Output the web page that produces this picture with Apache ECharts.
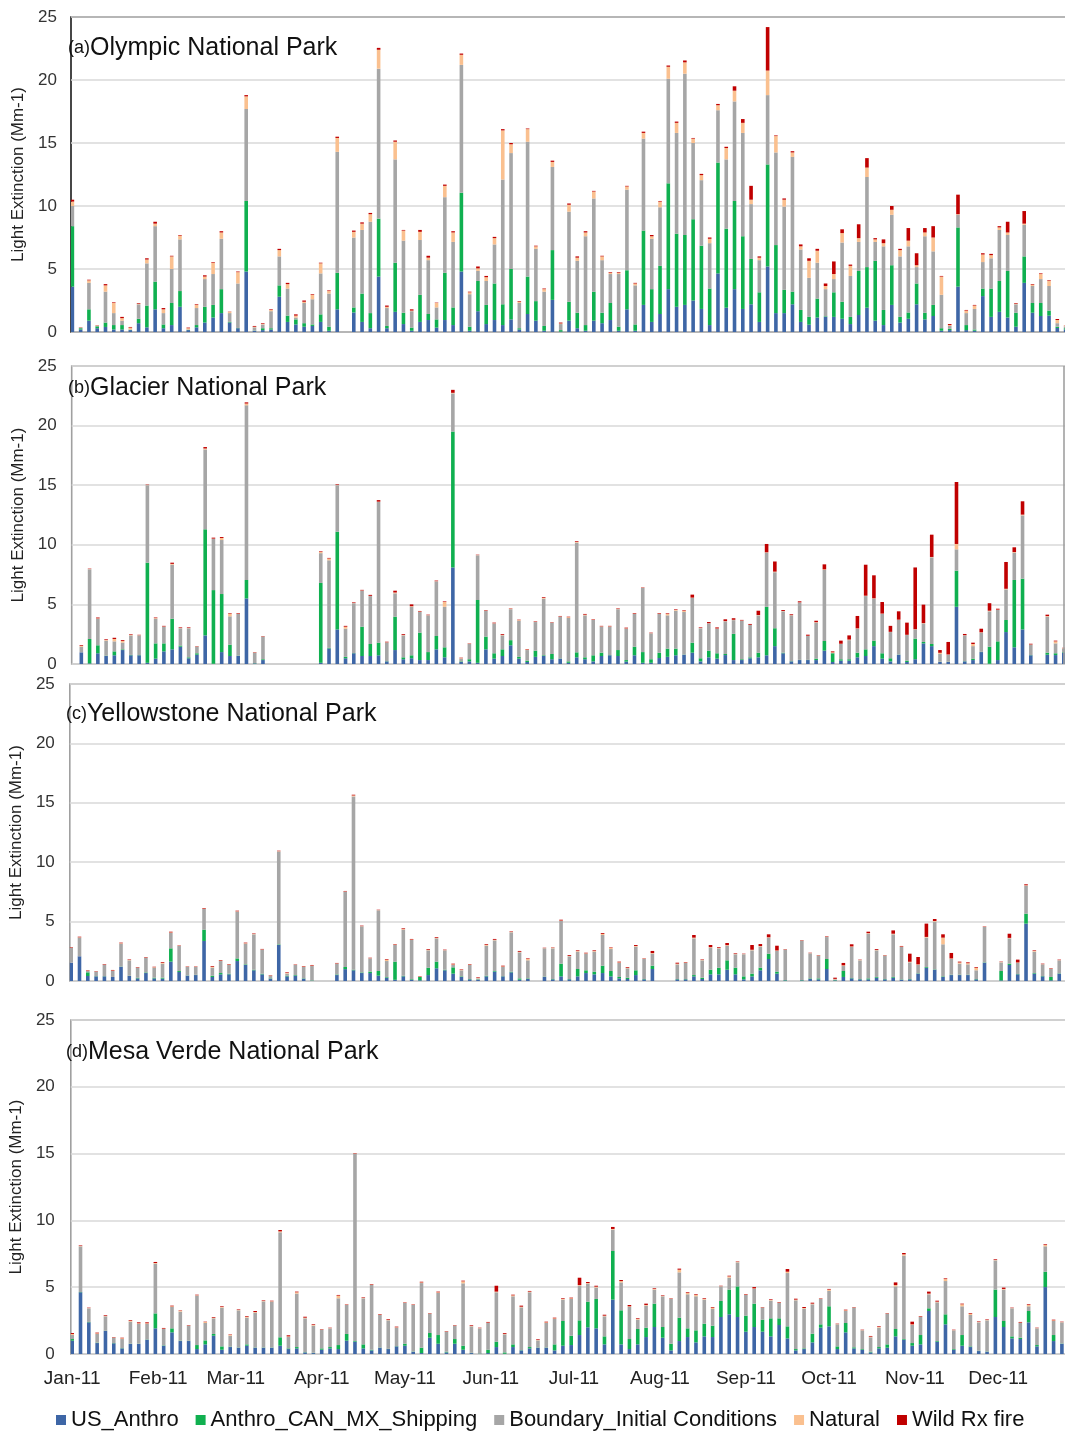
<!DOCTYPE html>
<html>
<head>
<meta charset="utf-8">
<script src="https://cdn.jsdelivr.net/npm/echarts@6/dist/echarts.min.js"></script>
<style>
  html, body { margin: 0; padding: 0; background: #fff; overflow: hidden; }
  #chart { width: 1090px; height: 1431px; }
</style>
</head>
<body>
<div id="chart"></div>
<script>
// Source-apportioned light extinction (Mm-1), one sample every third day of 2011.
// Each array holds samples k = 0..121 (day 3k of the year); null = no sample.

const seriesNames = ['US_Anthro', 'Anthro_CAN_MX_Shipping', 'Boundary_Initial Conditions', 'Natural', 'Wild Rx fire'];
const seriesColors = ['#3E66A6', '#10B050', '#A6A6A6', '#FAC08F', '#C00000'];
const monthLabels = ['Jan-11', 'Feb-11', 'Mar-11', 'Apr-11', 'May-11', 'Jun-11', 'Jul-11', 'Aug-11', 'Sep-11', 'Oct-11', 'Nov-11', 'Dec-11'];
const monthStartDays = [0, 31, 59, 90, 120, 151, 181, 212, 243, 273, 304, 334];
const yTicks = [0, 5, 10, 15, 20, 25];

// (a) Olympic National Park
const olympicUS = [3.6,0.2,0.9,0.3,0.4,0.2,0.2,0.15,0.7,0.37, 1.8,0.3,0.55,2.0,0.15,0.37,0.75,1.15,1.5,0.75, 0.3,4.8,0.1,0.15,0.2,2.8,0.8,0.6,0.42,0.48, 0.8,0.1,1.8,null,1.55,0.8,0.3,4.4,0.3,1.6, 0.63,0.1,0.8,0.95,0.35,0.95,0.55,4.8,0.1,1.65, 0.63,0.95,0.55,1.0,0.2,1.43,0.9,0.1,2.55,0.03, 0.9,0.3,0.1,0.9,0.7,0.95,0.1,1.8,0.1,2.15, 0.8,1.43,3.4,2.0,2.15,2.5,1.83,0.55,4.65,1.93, 3.4,1.83,2.2,0.8,5.2,1.5,1.5,2.2,0.8,0.58, 1.15,1.2,1.2,1.05,0.63,1.35,1.93,0.9,0.55,2.15, 0.75,1.05,2.2,1.0,1.27,0.1,0.15,3.6,0.15,0.1, 2.85,1.2,1.6,1.15,0.42,3.9,1.53,1.27,1.3,0.32, 0.2,null];
const olympicCAN = [4.8,0.1,0.9,0.15,0.35,0.35,0.35,0.02,0.35,1.73, 2.2,0.3,1.75,1.25,0.02,0.18,1.25,1.0,1.9,0.05, 0.02,5.6,0.02,0.15,0.1,0.9,0.5,0.4,0.28,0.12, 0.6,0.32,2.9,null,0.4,2.25,1.2,4.6,0.18,3.9, 0.9,0.25,2.15,0.48,0.65,3.75,1.4,6.25,0.32,2.4, 1.52,2.9,1.65,4.0,0.1,2.97,1.55,0.38,3.95,0.12, 1.5,1.23,0.45,2.3,0.83,1.35,0.32,3.1,0.5,5.9, 2.6,3.82,8.4,5.8,5.55,6.45,5.02,2.9,8.8,6.27, 7.0,5.77,3.6,2.35,8.1,5.4,1.85,1.0,0.95,0.62, 1.5,0.05,1.95,1.35,0.57,3.5,3.22,4.75,1.2,3.15, 0.45,0.5,1.65,0.53,0.88,0.2,0.1,4.7,0.4,0.1, 0.6,2.25,2.45,3.7,1.11,2.1,0.77,1.03,0.4,0.1, 0.1,null];
const olympicBnd = [1.6,0.05,2.1,0.05,2.45,0.95,0.35,0.03,1.15,3.35, 4.4,0.9,2.7,4.1,0.03,1.35,2.2,2.45,4.0,0.7, 3.53,7.3,0.25,0.3,1.35,2.3,2.15,0.15,1.6,2.0, 3.25,2.63,9.6,null,5.55,5.05,7.25,11.9,1.42,8.2, 5.72,1.3,4.35,4.27,0.95,6.0,5.2,10.15,2.58,0.8, 1.9,3.1,9.9,9.2,2.0,10.7,4.15,2.72,6.6,0.48, 7.15,4.12,7.05,7.4,4.17,2.3,4.18,6.4,3.1,7.3, 4.0,4.65,8.3,8.0,12.8,6.05,5.2,3.6,4.15,5.5, 7.9,8.2,4.35,2.55,5.5,7.35,6.6,10.7,4.8,3.1, 2.85,2.15,1.05,4.7,3.25,2.3,7.15,1.5,5.05,4.0, 4.8,5.25,1.3,6.07,4.25,2.65,0.23,1.0,0.95,1.63, 2.1,2.4,4.05,2.85,0.67,2.5,1.35,1.9,1.95,0.28, 0.15,null];
const olympicNat = [0.35,0.02,0.2,0.03,0.5,0.8,0.2,0.15,0.05,0.3, 0.2,0.3,1.0,0.3,0.1,0.25,0.2,0.9,0.5,0.1, 0.9,1.0,0.05,0.05,0.1,0.5,0.35,0.15,0.1,0.35, 0.8,0.2,1.1,null,0.45,0.5,0.6,1.5,0.1,1.4, 0.8,0.05,0.65,0.2,0.35,0.9,0.75,0.8,0.15,0.2, 0.3,0.5,3.9,0.7,0.1,1.0,0.2,0.2,0.4,0.05, 0.55,0.25,0.3,0.55,0.3,0.1,0.1,0.25,0.15,0.45, 0.2,0.45,0.95,0.8,0.9,0.35,0.4,0.35,0.4,0.9, 0.85,0.8,0.35,0.2,1.95,1.3,0.55,0.35,0.25,1.35, 0.95,0.25,0.4,0.75,0.8,0.3,0.75,0.2,0.25,0.4, 0.5,0.45,0.15,0.3,1.1,1.45,0.07,0.05,0.2,0.27, 0.6,0.25,0.2,0.2,0.05,0.1,0.1,0.4,0.4,0.25, 0.05,null];
const olympicFire = [0.15,0.02,0.05,0.02,0.1,0.05,0.1,0.05,0.05,0.1, 0.15,0.1,0.05,0.05,0.05,0.05,0.1,0.05,0.1,0.02, 0.05,0.1,0.06,0.05,0.05,0.1,0.1,0.1,0.1,0.05, 0.05,0.05,0.1,null,0.1,0.1,0.1,0.15,0.1,0.1, 0.05,0.1,0.15,0.15,0.03,0.1,0.1,0.1,0.05,0.15, 0.1,0.1,0.1,0.1,0.05,0.05,0.05,0.05,0.1,0.07, 0.1,0.1,0.1,0.05,0.05,0.05,0.05,0.05,0.05,0.1, 0.1,0.05,0.1,0.1,0.15,0.05,0.1,0.1,0.1,0.1, 0.35,0.3,1.1,0.1,3.45,0.05,0.1,0.1,0.15,0.2, 0.15,0.2,1.0,0.3,0.1,1.1,0.75,0.1,0.3,0.3, 0.1,1.0,0.95,0.35,0.9,0.05,0.08,1.55,0.05,0.05, 0.1,0.1,0.1,0.85,0.05,1.0,0.05,0.05,0.05,0.08, 0.02,null];

// (b) Glacier National Park
const glacierUS = [null,0.98,0.05,0.9,0.67,0.73,1.17,0.73,0.73,0.1, 0.45,1.06,1.23,1.45,0.48,0.78,2.4,0.02,1.0,0.67, 0.67,5.5,0.05,0.33,null,null,null,null,null,null, 0.1,1.3,2.9,0.48,0.9,0.67,0.67,0.73,0.22,1.17, 0.4,0.48,0.33,0.33,1.23,0.56,8.1,0.17,0.22,0.1, 1.23,0.45,0.67,1.57,0.45,0.17,0.6,0.67,0.4,0.45, 0.1,0.56,0.4,0.22,0.67,0.73,0.67,0.2,0.73,0.1, 0.1,0.5,0.6,0.73,0.78,0.95,0.22,0.56,0.45,0.75, 0.33,0.33,0.48,0.56,0.73,1.5,0.9,0.22,0.33,0.33, 0.33,1.12,0.17,0.28,0.28,0.56,0.67,1.5,0.45,0.22, 0.78,0.17,0.4,1.73,1.5,0.17,0.17,4.8,0.22,0.33, 1.0,0.02,0.33,2.68,1.4,2.9,0.73,null,0.78,0.75, 0.95,null];
const glacierCAN = [null,0.0,2.05,0.67,0.03,0.33,0.06,0.03,0.02,8.4, 1.28,0.67,2.57,0.1,0.08,0.12,8.9,6.18,4.87,0.95, 0.03,1.55,0.02,0.07,null,null,null,null,null,null, 6.7,0.05,8.2,0.12,0.02,2.46,1.01,1.06,0.02,2.8, 0.16,0.25,2.3,0.67,1.12,0.84,11.4,0.05,0.18,5.27, 1.07,0.45,0.56,0.43,0.15,0.11,0.52,0.06,0.44,0.02, 0.12,0.42,0.16,0.51,0.28,0.02,0.5,0.13,0.72,0.9, 0.3,0.45,0.69,0.56,0.02,0.84,0.26,0.56,0.45,0.09, 2.2,0.07,0.08,0.39,4.07,1.5,0.05,0.02,0.02,0.02, 0.12,0.81,0.73,0.12,0.12,0.39,0.56,0.46,0.45,0.26, 0.02,0.11,1.73,0.12,0.18,0.02,0.02,3.03,0.02,0.12, 0.02,1.43,1.57,1.01,5.65,4.26,0.02,null,0.17,0.15, 0.05,null];
const glacierBnd = [null,0.47,5.85,2.23,1.26,0.84,0.57,1.64,1.65,6.5, 2.07,1.4,4.53,1.45,2.44,0.55,6.7,4.3,4.53,2.38, 3.5,14.65,0.88,1.9,null,null,null,null,null,null, 2.5,7.35,3.9,2.36,4.18,3.02,4.02,11.8,1.56,1.96, 1.84,4.07,1.73,3.08,4.58,3.4,3.2,0.23,1.28,3.75, 2.17,2.5,1.17,2.6,3.03,0.89,2.4,4.75,2.63,3.5, 3.64,9.2,3.52,2.96,2.18,2.38,3.43,2.63,2.75,5.38, 2.17,3.25,2.79,3.18,3.56,3.75,2.52,2.28,2.06,2.74, 1.15,3.23,2.71,3.13,4.54,4.7,3.47,3.84,4.8,2.0, 3.02,5.96,0.02,1.28,1.6,2.01,4.47,3.52,3.3,2.2, 2.89,2.15,0.77,1.55,7.27,0.65,0.59,1.79,2.16,1.05, 1.61,2.97,2.63,2.57,2.29,5.31,0.87,null,3.02,0.83, 0.3,null];
const glacierNat = [null,0.06,0.02,0.03,0.05,0.2,0.13,0.05,0.02,0.02, 0.05,0.02,0.07,0.02,0.02,0.02,0.08,0.02,0.17,0.2, 0.03,0.15,0.02,0.02,null,null,null,null,null,null, 0.1,0.15,0.02,0.17,0.02,0.02,0.02,0.03,0.02,0.07, 0.03,0.05,0.04,0.02,0.02,0.4,0.05,0.04,0.02,0.02, 0.02,0.02,0.03,0.04,0.05,0.05,0.02,0.06,0.02,0.02, 0.07,0.06,0.06,0.02,0.03,0.03,0.03,0.03,0.03,0.02, 0.02,0.03,0.12,0.06,0.09,0.03,0.02,0.02,0.02,0.02, 0.03,0.02,0.02,0.03,0.03,0.05,0.03,0.02,0.02,0.02, 0.04,0.05,0.06,0.02,0.05,0.03,0.03,0.03,0.03,0.02, 0.03,0.02,0.02,0.03,0.03,0.1,0.02,0.45,0.02,0.18, 0.03,0.05,0.03,0.05,0.05,0.06,0.02,null,0.05,0.17, 0.03,null];
const glacierFire = [null,0.06,0.03,0.07,0.06,0.1,0.07,0.05,0.03,0.03, 0.05,0.05,0.1,0.05,0.05,0.03,0.12,0.08,0.08,0.05, 0.05,0.1,0.03,0.03,null,null,null,null,null,null, 0.05,0.05,0.05,0.07,0.05,0.05,0.08,0.13,0.05,0.15, 0.07,0.15,0.05,0.04,0.05,0.05,0.25,0.04,0.03,0.03, 0.04,0.05,0.07,0.03,0.04,0.04,0.04,0.06,0.03,0.04, 0.04,0.06,0.06,0.04,0.04,0.04,0.04,0.06,0.05,0.03, 0.04,0.05,0.05,0.05,0.05,0.25,0.05,0.1,0.09,0.15, 0.13,0.05,0.07,0.36,0.7,0.85,0.08,0.07,0.09,0.09, 0.12,0.42,0.08,0.26,0.35,1.04,2.6,1.93,0.97,0.5, 0.7,1.02,5.18,1.55,1.87,0.23,1.05,5.2,0.1,0.11, 0.3,0.63,0.08,2.25,0.4,1.12,0.06,null,0.12,0.06, 0.03,null];

// (c) Yellowstone National Park
const yellowstoneUS = [1.54,2.08,0.42,0.39,0.39,0.34,1.2,0.42,0.22,0.67, 0.22,0.2,1.63,0.76,0.45,0.5,3.37,0.34,0.56,0.56, 1.68,1.35,0.9,0.56,0.2,3.03,0.39,0.45,0.2,0.02, null,null,0.5,1.0,0.9,0.67,0.67,0.45,0.28,0.1, 0.39,0.11,0.06,0.5,1.07,0.9,0.62,0.34,0.14,0.11, 0.39,0.79,0.39,0.73,0.11,0.17,null,0.34,0.14,0.39, 0.14,0.39,0.67,0.56,0.67,0.39,0.22,0.17,0.5,0.14, 1.01,null,null,0.14,0.14,0.39,0.17,0.56,0.56,0.95, 0.56,0.14,0.39,0.9,1.85,0.62,0.05,null,0.05,0.17, 0.14,1.01,0.05,0.34,0.22,0.14,0.14,0.28,0.14,0.28, 0.11,0.14,0.62,1.12,0.95,0.34,0.5,0.5,0.5,0.14, 1.54,null,0.05,1.35,0.56,4.83,0.62,0.39,0.06,0.62, null,null];
const yellowstoneCAN = [0,0,0.31,0.02,0.02,0,0.02,0.02,0.05,0.05, 0.06,0.08,1.12,0.08,0.02,0.02,0.95,0.11,0.11,0.05, 0.22,0.05,0.05,0.05,0.03,0.05,0.05,0.05,0.03,0.03, null,null,0.05,0.18,0.05,0.05,0.12,0.39,0.05,1.53, 0.05,0.05,0.28,0.62,0.56,0.05,0.53,0.05,0.03,0.03, 0.05,0.05,0.02,0.05,0.11,0.05,null,0.03,0.03,1.07, 0.03,0.62,0.23,0.23,0.62,0.45,0.12,0.11,0.4,0.03, 0.28,null,null,0.03,0.03,0.11,0.11,0.39,0.56,0.79, 0.56,0.25,0.23,0.22,0.45,0.17,0.03,null,0.03,0.05, 0.08,0.84,0.03,0.5,0.03,0.03,0.08,0.06,0.03,0.06, 0.03,0.03,0.03,0.06,0.03,0.05,0.03,0.03,0.03,0.03, 0.03,null,0.79,0.11,0.03,0.84,0.05,0.03,0.28,0.03, null,null];
const yellowstoneBnd = [1.26,1.57,0.11,0.38,0.96,0.5,1.92,1.3,0.85,1.24, 0.84,1.18,1.29,2.11,0.71,0.66,1.74,0.67,1.01,0.74, 3.94,1.74,2.98,2.03,0.22,7.82,0.18,0.85,0.95,1.21, null,null,0.91,6.34,14.59,3.88,1.11,5.11,1.35,1.4, 3.88,3.29,0.02,1.46,1.96,1.63,0.2,0.51,1.18,0.08, 2.53,2.58,0.77,3.32,2.19,1.52,null,2.38,2.58,3.59, 1.91,1.46,1.4,1.68,2.58,1.85,1.18,0.79,1.99,1.68, 1.01,null,null,1.23,1.35,3.09,1.46,1.85,1.63,1.23, 1.13,1.86,1.96,1.77,1.35,1.74,2.56,null,3.32,2.11, 1.91,1.85,0.06,0.42,2.61,1.57,3.76,2.24,1.96,3.59, 2.72,1.4,0.7,2.47,4.02,2.7,1.32,0.93,0.87,0.73, 2.98,null,0.73,2.13,0.93,2.35,1.8,0.98,0.67,1.09, null,null];
const yellowstoneNat = [0.02,0.03,0.02,0.02,0.02,0.04,0.04,0.04,0.02,0.02, 0.04,0.08,0.05,0.02,0.02,0.02,0.03,0.08,0.04,0.04, 0.03,0.04,0.03,0.02,0.02,0.03,0.06,0.02,0.04,0.04, null,null,0.02,0.02,0.08,0.02,0.02,0.02,0.12,0.04, 0.05,0.04,0.03,0.05,0.05,0.02,0.05,0.04,0.04,0.04, 0.08,0.05,0.05,0.04,0.05,0.11,null,0.02,0.05,0.04, 0.04,0.05,0.03,0.05,0.1,0.1,0.05,0.05,0.06,0.03, 0.05,null,null,0.06,0.04,0.06,0.04,0.05,0.05,0.05, 0.03,0.02,0.05,0.05,0.03,0.04,0.02,null,0.02,0.02, 0.03,0.02,0.04,0.06,0.05,0.03,0.05,0.04,0.03,0.05, 0.04,0.05,0.05,0.06,0.05,0.56,0.05,0.1,0.1,0.22, 0.02,null,0.03,0.04,0.04,0.04,0.06,0.02,0.02,0.02, null,null];
const yellowstoneFire = [0.04,0.05,0.04,0.03,0.04,0.05,0.05,0.04,0.04,0.04, 0.04,0.06,0.06,0.03,0.03,0.03,0.05,0.06,0.05,0.04, 0.05,0.05,0.04,0.04,0.03,0.04,0.05,0.03,0.04,0.05, null,null,0.04,0.04,0.06,0.04,0.04,0.03,0.05,0.04, 0.06,0.05,0.03,0.06,0.06,0.04,0.06,0.04,0.04,0.05, 0.06,0.07,0.06,0.04,0.07,0.05,null,0.03,0.03,0.07, 0.07,0.06,0.05,0.06,0.07,0.04,0.06,0.06,0.08,0.03, 0.18,null,null,0.08,0.04,0.22,0.04,0.18,0.06,0.18, 0.05,0.03,0.4,0.17,0.25,0.4,0.03,null,0.03,0.03, 0.03,0.04,0.1,0.2,0.18,0.03,0.12,0.07,0.03,0.28, 0.05,0.68,0.62,1.12,0.17,0.28,0.46,0.07,0.07,0.06, 0.03,null,0.03,0.35,0.24,0.08,0.05,0.04,0.04,0.04, null,null];

// (d) Mesa Verde National Park
const mesaVerdeUS = [1.0,4.62,2.37,0.82,1.72,0.8,0.42,0.75,0.75,1.07, 1.92,0.62,1.62,0.97,0.97,0.37,0.72,1.37,0.32,0.52, 0.47,0.62,0.47,0.47,0.47,0.62,0.37,0.42,0.12,0.07, 0.32,0.42,0.37,1.0,0.92,0.42,0.27,0.47,0.37,0.57, 0.62,0.17,0.07,1.22,0.77,0.12,0.77,0.32,0.07,0.02, 0.07,0.52,0.02,0.52,0.27,0.42,0.47,0.47,0.27,0.62, 0.67,1.42,2.0,1.92,0.72,4.07,0.72,0.37,0.72,1.27, 2.02,1.22,0.27,0.97,1.27,0.87,1.32,1.27,2.77,2.97, 2.77,1.67,2.02,1.67,1.32,2.17,1.17,0.27,0.37,0.87, 1.97,2.07,0.37,1.62,0.42,0.32,0.12,0.42,0.47,1.32, 1.07,0.62,0.72,3.22,0.92,2.22,0.32,0.62,0.52,0.22, 0.17,2.77,2.02,1.17,1.12,2.37,0.57,5.01,0.97,0.77, null,null];
const mesaVerdeCAN = [0.12,0.02,0.03,0.03,0.02,0.02,0.02,0.02,0.02,0.02, 1.12,0.03,0.3,0.03,0.02,0.3,0.3,0.13,0.25,0.03, 0.02,0.1,0.02,0.02,0.02,0.63,0.05,0.1,0.02,0.02, 0.1,0.1,0.3,0.5,0.05,0.3,0.05,0.02,0.02,0.02, 0.15,0.02,0.4,0.35,0.65,0.05,0.35,0.3,0.02,0.02, 0.25,0.4,0.1,0.2,0.02,0.1,0.02,0.02,0.45,1.85, 0.7,1.1,1.92,2.2,0.6,3.64,2.55,0.75,1.15,0.7, 1.75,0.8,0.5,1.75,0.65,0.9,0.95,0.85,1.2,1.85, 2.29,1.2,1.75,0.9,1.35,0.5,0.9,0.1,0.05,0.65, 0.25,1.5,0.2,0.7,0.08,0.05,0.05,0.1,0.25,0.55, 0.05,0.2,0.7,0.2,0.05,0.75,0.05,0.8,0.05,0.02, 0.02,2.05,0.45,0.15,0.1,0.85,0.1,1.15,0.45,0.02, null,null];
const mesaVerdeBnd = [0.3,3.42,1.02,0.65,1.08,0.4,0.68,1.65,1.48,1.16, 3.72,1.22,1.6,2.17,1.13,3.7,1.3,1.17,2.9,0.82, 2.78,2.0,2.6,3.45,3.43,7.86,0.85,4.0,2.53,2.03, 1.4,1.4,3.5,2.17,14.02,3.45,4.85,2.43,2.13,1.38, 3.05,3.48,4.84,1.45,3.15,1.5,1.0,4.67,1.98,1.88, 2.0,3.7,1.35,3.6,3.2,4.1,0.53,1.83,1.9,1.6, 2.75,2.59,1.34,0.85,1.5,1.6,2.09,2.4,0.7,1.65, 1.05,2.3,3.35,3.39,2.55,2.55,1.8,1.25,1.09,0.89, 1.8,1.55,1.1,0.9,1.33,1.15,3.99,3.65,2.97,2.2, 1.9,1.15,1.65,0.9,2.97,1.4,1.08,1.45,2.3,3.19, 6.24,1.35,1.35,1.05,2.9,2.49,1.4,2.15,2.35,2.13, 2.33,2.19,2.35,2.1,1.1,0.35,1.25,1.9,1.05,1.58, null,null];
const mesaVerdeNat = [0.08,0.03,0.02,0.05,0.03,0.02,0.06,0.07,0.05,0.05, 0.05,0.03,0.05,0.07,0.02,0.03,0.07,0.05,0.05,0.07, 0.03,0.07,0.05,0.04,0.03,0.07,0.05,0.1,0.05,0.05, 0.02,0.02,0.2,0.02,0.02,0.03,0.03,0.03,0.05,0.03, 0.02,0.02,0.05,0.02,0.05,0.02,0.02,0.15,0.03,0.02, 0.03,0.05,0.04,0.07,0.05,0.05,0.03,0.05,0.05,0.05, 0.05,0.05,0.05,0.07,0.05,0.05,0.1,0.05,0.05,0.05, 0.05,0.03,0.02,0.2,0.1,0.1,0.05,0.1,0.02,0.1, 0.05,0.03,0.04,0.02,0.04,0.03,0.1,0.05,0.05,0.05, 0.02,0.1,0.02,0.05,0.02,0.02,0.05,0.05,0.02,0.1, 0.1,0.05,0.03,0.05,0.05,0.15,0.02,0.15,0.1,0.03, 0.03,0.03,0.05,0.02,0.03,0.1,0.02,0.1,0.05,0.02, null,null];
const mesaVerdeFire = [0.07,0.04,0.03,0.05,0.05,0.03,0.04,0.05,0.07,0.07, 0.08,0.05,0.05,0.03,0.03,0.04,0.03,0.05,0.05,0.03, 0.04,0.05,0.08,0.04,0.04,0.1,0.08,0.05,0.07,0.05, 0.03,0.03,0.05,0.03,0.03,0.04,0.04,0.04,0.05,0.05, 0.03,0.03,0.05,0.03,0.05,0.03,0.03,0.05,0.05,0.03, 0.05,0.44,0.06,0.05,0.08,0.05,0.05,0.05,0.05,0.05, 0.05,0.55,0.08,0.07,0.07,0.15,0.08,0.1,0.05,0.1, 0.05,0.04,0.03,0.08,0.05,0.05,0.05,0.05,0.03,0.05, 0.03,0.04,0.1,0.03,0.05,0.04,0.2,0.07,0.08,0.07, 0.03,0.05,0.03,0.05,0.03,0.03,0.05,0.05,0.03,0.2, 0.1,0.2,0.04,0.15,0.07,0.05,0.03,0.05,0.05,0.04, 0.04,0.05,0.1,0.03,0.05,0.05,0.03,0.05,0.05,0.03, null,null];

const FONT = '"Liberation Sans", Arial, sans-serif';
const DAYS = 365;
const SAMPLE_STEP = 3;
const dayCategories = Array.from({ length: DAYS }, (_, d) => String(d));

// Spread the every-third-day samples over a daily category axis.
function toDaily(samples) {
  const out = new Array(DAYS).fill('-');
  samples.forEach((v, k) => {
    const d = k * SAMPLE_STEP;
    if (d < DAYS && v !== null) out[d] = v;
  });
  return out;
}

const panels = [
  { tag: '(a)', name: 'Olympic National Park', left: 71, width: 1007, top: 17, height: 315,
    frame: '#1a1a1a', labelMargin: 14, nameGap: 38, titleX: 68, titleY: 48, rightEdge: false,
    values: [olympicUS, olympicCAN, olympicBnd, olympicNat, olympicFire] },
  { tag: '(b)', name: 'Glacier National Park', left: 71.7, width: 1004.5, top: 366, height: 298,
    frame: '#a0a0a0', labelMargin: 15, nameGap: 39, titleX: 68, titleY: 388, rightEdge: true,
    values: [glacierUS, glacierCAN, glacierBnd, glacierNat, glacierFire] },
  { tag: '(c)', name: 'Yellowstone National Park', left: 67, width: 1013, top: 684, height: 297,
    frame: '#a0a0a0', labelMargin: 15, nameGap: 40, titleX: 66, titleY: 714, rightEdge: false,
    values: [yellowstoneUS, yellowstoneCAN, yellowstoneBnd, yellowstoneNat, yellowstoneFire] },
  { tag: '(d)', name: 'Mesa Verde National Park', left: 66.7, width: 1016, top: 1020, height: 334,
    frame: '#a0a0a0', labelMargin: 16, nameGap: 40, titleX: 66, titleY: 1052, rightEdge: false,
    values: [mesaVerdeUS, mesaVerdeCAN, mesaVerdeBnd, mesaVerdeNat, mesaVerdeFire] }
];

const grids = [], xAxes = [], yAxes = [], series = [], graphics = [];

panels.forEach((p, i) => {
  const isLast = i === panels.length - 1;
  grids.push({
    left: p.left, width: p.width, top: p.top, height: p.height,
    show: true, borderColor: p.frame, borderWidth: 1.6, backgroundColor: 'transparent'
  });
  xAxes.push({
    type: 'category', gridIndex: i, data: dayCategories, boundaryGap: true,
    axisLine: { show: false }, axisTick: { show: false }, splitLine: { show: false },
    axisLabel: isLast ? {
      show: true,
      interval: (idx) => monthStartDays.indexOf(idx) >= 0,
      formatter: (val) => monthLabels[monthStartDays.indexOf(Number(val))] || '',
      fontFamily: FONT, fontSize: 19, color: '#222', margin: 15
    } : { show: false }
  });
  yAxes.push({
    type: 'value', gridIndex: i, min: yTicks[0], max: yTicks[yTicks.length - 1], interval: 5,
    name: 'Light Extinction (Mm-1)', nameLocation: 'middle', nameGap: p.nameGap,
    nameTextStyle: { fontFamily: FONT, fontSize: 17, color: '#222' },
    axisLine: { show: false }, axisTick: { show: false },
    splitLine: { show: true, lineStyle: { color: '#d9d9d9', width: 1.5 } },
    axisLabel: { fontFamily: FONT, fontSize: 17, color: '#333', margin: p.labelMargin }
  });
  p.values.forEach((arr, s) => {
    series.push({
      name: seriesNames[s], type: 'bar', stack: 'panel' + i,
      xAxisIndex: i, yAxisIndex: i,
      barWidth: 3.6,
      itemStyle: { color: seriesColors[s] },
      emphasis: { disabled: true },
      data: toDaily(arr)
    });
  });
  graphics.push({
    type: 'text', x: p.titleX, y: p.titleY, z: 100,
    style: {
      text: '{p|' + p.tag + '}{t|' + p.name + '}',
      verticalAlign: 'middle',
      fill: '#111',
      rich: {
        p: { fontFamily: FONT, fontSize: 18, fill: '#111', verticalAlign: 'middle' },
        t: { fontFamily: FONT, fontSize: 25, fill: '#111', verticalAlign: 'middle' }
      }
    }
  });
  if (p.rightEdge) {
    // this panel's frame closes just inside the page edge
    graphics.push({
      type: 'line', z: 100,
      shape: { x1: 1064, y1: p.top, x2: 1064, y2: p.top + p.height },
      style: { stroke: p.frame, lineWidth: 1.6 }
    });
  }
});

const chart = echarts.init(document.getElementById('chart'), null, { renderer: 'canvas' });
chart.setOption({
  animation: false,
  backgroundColor: '#fff',
  grid: grids,
  xAxis: xAxes,
  yAxis: yAxes,
  series: series,
  graphic: graphics,
  legend: {
    data: seriesNames,
    left: 51, top: 1404,
    icon: 'rect', itemWidth: 10, itemHeight: 10, itemGap: 17,
    textStyle: { fontFamily: FONT, fontSize: 22, color: '#111' }
  }
});
</script>
</body>
</html>
